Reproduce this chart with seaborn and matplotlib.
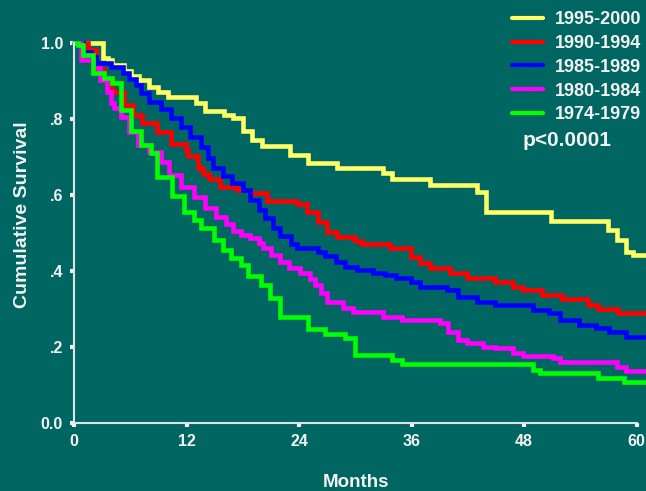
import matplotlib
matplotlib.use("Agg")
import matplotlib.pyplot as plt
import seaborn as sns
import pandas as pd

# ---------------- data ----------------
cohorts = ["1995-2000", "1990-1994", "1985-1989", "1980-1984", "1974-1979"]
colors = ["#FFFF66", "#FF0000", "#0000FF", "#FF00FF", "#00FF00"]

t_1995 = [0, 3.1, 3.6, 4.1, 5.3, 6.1, 6.9, 8.0, 9.0, 10.0, 13.0, 14.0, 16.0, 17.0,
          18.0, 19.0, 20.0, 23.0, 25.0, 28.1, 33.0, 33.9, 38.0, 43.0, 43.9, 50.9,
          56.9, 57.9, 58.9, 59.6, 61.0]
s_1995 = [1.0, 0.961, 0.955, 0.942, 0.926, 0.913, 0.903, 0.884, 0.871, 0.858, 0.842,
          0.821, 0.811, 0.803, 0.768, 0.745, 0.729, 0.705, 0.684, 0.671, 0.658, 0.642,
          0.626, 0.608, 0.555, 0.532, 0.508, 0.482, 0.450, 0.442, 0.442]

t_1990 = [0, 1.5, 2.3, 3.2, 4.1, 5.3, 6.3, 7.3, 8.9, 10.3, 11.9, 12.2, 13.2, 13.8,
          14.4, 15.6, 17.4, 18.8, 20.6, 23.8, 24.9, 26.0, 27.0, 28.1, 30.0, 30.7,
          33.7, 35.9, 36.9, 38.0, 40.1, 41.9, 44.9, 46.8, 47.9, 49.9, 52.0, 54.8,
          55.9, 58.0, 61.0]
s_1990 = [1.0, 0.982, 0.932, 0.903, 0.871, 0.837, 0.811, 0.789, 0.766, 0.734, 0.718,
          0.703, 0.671, 0.655, 0.642, 0.621, 0.613, 0.605, 0.584, 0.576, 0.555, 0.529,
          0.503, 0.489, 0.479, 0.471, 0.461, 0.437, 0.421, 0.408, 0.395, 0.382, 0.371,
          0.358, 0.350, 0.337, 0.326, 0.311, 0.300, 0.289, 0.289]

t_1985 = [0, 1.0, 1.8, 2.3, 3.9, 5.2, 5.9, 6.6, 7.1, 8.0, 9.3, 10.3, 11.4, 12.4,
          13.5, 14.3, 14.8, 15.9, 16.9, 18.0, 18.8, 19.7, 20.4, 21.2, 22.0, 23.1,
          23.8, 26.0, 26.8, 27.9, 28.9, 30.2, 31.9, 33.2, 34.3, 35.9, 36.9, 39.8,
          40.9, 43.0, 44.9, 48.9, 50.7, 51.8, 53.9, 55.7, 57.1, 58.9, 61.0]
s_1985 = [1.0, 0.976, 0.963, 0.947, 0.937, 0.921, 0.905, 0.889, 0.868, 0.845, 0.826,
          0.803, 0.779, 0.753, 0.726, 0.697, 0.671, 0.650, 0.632, 0.613, 0.587, 0.561,
          0.539, 0.513, 0.492, 0.471, 0.461, 0.450, 0.439, 0.424, 0.411, 0.403, 0.395,
          0.389, 0.382, 0.371, 0.358, 0.350, 0.332, 0.318, 0.311, 0.297, 0.289, 0.271,
          0.258, 0.250, 0.239, 0.226, 0.226]

t_1980 = [0, 0.7, 2.0, 2.8, 3.5, 3.9, 4.3, 5.0, 5.9, 6.8, 8.0, 9.3, 10.1, 11.4, 12.8,
          14.0, 15.1, 16.2, 17.0, 17.8, 18.8, 19.7, 20.2, 21.0, 22.0, 22.9, 24.1,
          25.2, 25.7, 26.3, 27.0, 28.7, 29.8, 32.9, 35.0, 39.0, 39.9, 40.9, 41.9,
          43.6, 44.9, 46.8, 47.9, 51.1, 51.8, 57.9, 58.9, 61.0]
s_1980 = [1.0, 0.955, 0.934, 0.903, 0.870, 0.842, 0.829, 0.805, 0.766, 0.732, 0.713,
          0.687, 0.653, 0.621, 0.595, 0.566, 0.542, 0.524, 0.505, 0.495, 0.487, 0.474,
          0.461, 0.442, 0.424, 0.408, 0.395, 0.379, 0.363, 0.342, 0.318, 0.303, 0.292,
          0.279, 0.271, 0.263, 0.239, 0.218, 0.211, 0.200, 0.197, 0.184, 0.176, 0.171,
          0.161, 0.147, 0.137, 0.137]

t_1974 = [0, 0.4, 1.0, 2.0, 3.2, 4.1, 5.0, 6.1, 7.1, 8.2, 8.9, 10.5, 11.7, 12.8,
          13.5, 14.9, 15.9, 16.7, 17.8, 18.6, 19.9, 20.9, 22.0, 25.0, 26.8, 28.9,
          30.0, 33.9, 35.0, 48.9, 49.7, 55.9, 58.7, 61.0]
s_1974 = [1.0, 0.995, 0.968, 0.921, 0.908, 0.895, 0.824, 0.768, 0.732, 0.711, 0.647,
          0.597, 0.555, 0.534, 0.513, 0.482, 0.455, 0.434, 0.416, 0.387, 0.363, 0.329,
          0.279, 0.247, 0.234, 0.224, 0.179, 0.166, 0.155, 0.139, 0.132, 0.118, 0.108,
          0.108]

x_ticks = [0, 12, 24, 36, 48, 60]
y_ticks = [0.0, 0.2, 0.4, 0.6, 0.8, 1.0]
y_tick_labels = ["0.0", ".2", ".4", ".6", ".8", "1.0"]
p_text = "p<0.0001"

times = [t_1995, t_1990, t_1985, t_1980, t_1974]
survs = [s_1995, s_1990, s_1985, s_1980, s_1974]

rows = []
for name, ts, ss in zip(cohorts, times, survs):
    for t, s in zip(ts, ss):
        rows.append({"Months": t, "Survival": s, "Cohort": name})
df = pd.DataFrame(rows)

# ---------------- style ----------------
BG = "#006661"
FG = "#F2F2F2"
sns.set_theme(style="ticks")
plt.rcParams["font.family"] = ["Liberation Sans", "DejaVu Sans"]
plt.rcParams["font.weight"] = "bold"

fig = plt.figure(figsize=(6.46, 4.91), dpi=100, facecolor=BG)
ax = fig.add_axes([74 / 646, 68 / 491, 572 / 646, 380 / 491])
ax.set_facecolor(BG)

sns.lineplot(data=df, x="Months", y="Survival", hue="Cohort", hue_order=cohorts,
             palette=colors, estimator=None, sort=False, drawstyle="steps-post",
             linewidth=3.3, ax=ax, legend=True)
for ln in ax.lines:
    ln.set_clip_on(False)
    ln.set_solid_joinstyle("miter")

ax.set_xlim(0, 61)
ax.set_ylim(0, 1.0)
ax.set_xticks(x_ticks)
ax.set_xticklabels([str(v) for v in x_ticks])
ax.set_yticks(y_ticks)
ax.set_yticklabels(y_tick_labels)

for side in ["top", "right"]:
    ax.spines[side].set_visible(False)
for side in ["left", "bottom"]:
    ax.spines[side].set_color("#DDE6E6")
    ax.spines[side].set_linewidth(1.5)
ax.spines["bottom"].set_bounds(0, 60)
ax.spines["left"].set_bounds(0, 1.0)

ax.tick_params(axis="both", colors=FG, direction="out", length=3, width=3,
               labelsize=11.5, pad=5)
for lab in ax.get_xticklabels() + ax.get_yticklabels():
    lab.set_fontweight("bold")
    lab.set_color(FG)

ax.set_xlabel("Months", fontsize=13.5, fontweight="bold", color=FG)
ax.xaxis.set_label_coords(0.493, -0.133)
ax.set_ylabel("Cumulative Survival", fontsize=14, fontweight="bold", color=FG)
ax.yaxis.set_label_coords(-0.075, 0.547)

handles, labels = ax.get_legend_handles_labels()
leg = ax.legend(handles, labels, loc="upper left",
                bbox_to_anchor=(512 / 646, 1 - 11 / 491), bbox_transform=fig.transFigure,
                frameon=False, fontsize=13, handlelength=1.7, handletextpad=0.65,
                labelspacing=0.38, borderpad=0, borderaxespad=0)
for txt in leg.get_texts():
    txt.set_color(FG)
    txt.set_fontweight("bold")
for h in leg.legend_handles:
    h.set_linewidth(3.0)

fig.text(523 / 646, 1 - 140 / 491, p_text, fontsize=15, fontweight="bold",
         color=FG, ha="left", va="center")

fig.savefig("out.png", dpi=100, facecolor=BG)
